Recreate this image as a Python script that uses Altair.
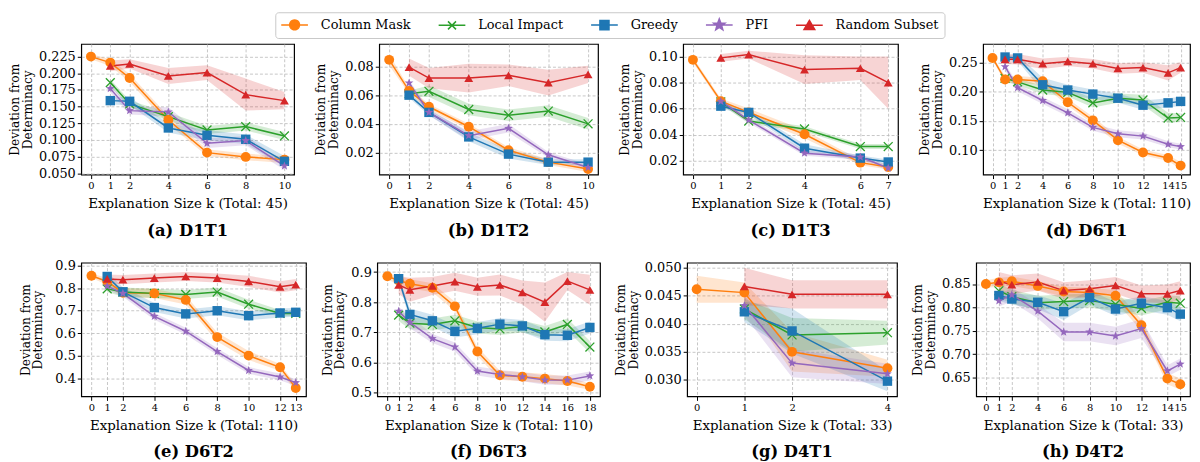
import math
import altair as alt
import pandas as pd

METHODS = ["Column Mask", "Local Impact", "Greedy", "PFI", "Random Subset"]
COLORS = ["#ff7f0e", "#2ca02c", "#1f77b4", "#9467bd", "#d62728"]

# ---------------- (a) D1T1 ----------------
D1T1_K = [0, 1, 2, 4, 6, 8, 10]
D1T1_MEAN = {
    "Column Mask": [0.225, 0.216, 0.193, 0.130, 0.081, 0.0746, 0.0705],
    "Local Impact": [0.186, 0.154, 0.135, 0.115, 0.120, 0.106],
    "Greedy": [0.159, 0.158, 0.118, 0.107, 0.101, 0.068],
    "PFI": [0.177, 0.144, 0.142, 0.095, 0.099, 0.061],
    "Random Subset": [0.211, 0.214, 0.196, 0.201, 0.168, 0.159],
}
D1T1_ERR = {
    "Column Mask": [0.004, 0.005, 0.006, 0.006, 0.005, 0.005, 0.005],
    "Local Impact": [0.005, 0.005, 0.006, 0.006, 0.006, 0.006],
    "Greedy": [0.006, 0.006, 0.007, 0.008, 0.007, 0.008],
    "PFI": [0.006, 0.006, 0.007, 0.007, 0.007, 0.006],
    "Random Subset": [0.008, 0.007, 0.012, 0.011, 0.024, 0.013],
}

# ---------------- (b) D1T2 ----------------
D1T2_K = [0, 1, 2, 4, 6, 8, 10]
D1T2_MEAN = {
    "Column Mask": [0.0846, 0.063, 0.0519, 0.038, 0.0216, 0.0133, 0.0085],
    "Local Impact": [0.061, 0.0627, 0.050, 0.046, 0.0489, 0.040],
    "Greedy": [0.060, 0.048, 0.0309, 0.0189, 0.0133, 0.0133],
    "PFI": [0.0685, 0.048, 0.0318, 0.0369, 0.0184, 0.0096],
    "Random Subset": [0.0795, 0.0719, 0.0719, 0.0738, 0.0687, 0.0745],
}
D1T2_ERR = {
    "Column Mask": [0.004, 0.002, 0.002, 0.002, 0.002, 0.002, 0.002],
    "Local Impact": [0.002, 0.004, 0.004, 0.004, 0.004, 0.004],
    "Greedy": [0.002, 0.002, 0.003, 0.003, 0.002, 0.002],
    "PFI": [0.002, 0.002, 0.003, 0.003, 0.002, 0.002],
    "Random Subset": [0.006, 0.007, 0.010, 0.0075, 0.009, 0.006],
}

# ---------------- (c) D1T3 ----------------
D1T3_K = [0, 1, 2, 4, 6, 7]
D1T3_MEAN = {
    "Column Mask": [0.0975, 0.0657, 0.0571, 0.0403, 0.0185, 0.0152],
    "Local Impact": [0.0652, 0.0505, 0.0444, 0.0309, 0.0309],
    "Greedy": [0.0619, 0.0571, 0.0296, 0.022, 0.019],
    "PFI": [0.0657, 0.0512, 0.0258, 0.0228, 0.0144],
    "Random Subset": [0.099, 0.1015, 0.090, 0.091, 0.080],
}
D1T3_ERR = {
    "Column Mask": [0.002, 0.002, 0.003, 0.003, 0.002, 0.002],
    "Local Impact": [0.002, 0.002, 0.002, 0.002, 0.002],
    "Greedy": [0.002, 0.002, 0.003, 0.002, 0.002],
    "PFI": [0.002, 0.002, 0.002, 0.002, 0.002],
    "Random Subset": [0.003, 0.003, 0.011, 0.009, 0.020],
}

# ---------------- (d) D6T1 ----------------
D6T1_K = [0, 1, 2, 4, 6, 8, 10, 12, 14, 15]
D6T1_MEAN = {
    "Column Mask": [0.258, 0.221, 0.221, 0.218, 0.182, 0.151, 0.117, 0.096, 0.0865, 0.0735],
    "Local Impact": [0.223, 0.217, 0.203, 0.199, 0.181, 0.189, 0.186, 0.155, 0.156],
    "Greedy": [0.2596, 0.258, 0.212, 0.203, 0.196, 0.189, 0.177, 0.181, 0.1835],
    "PFI": [0.243, 0.207, 0.185, 0.164, 0.139, 0.128, 0.124, 0.110, 0.106],
    "Random Subset": [0.2556, 0.2556, 0.248, 0.252, 0.248, 0.240, 0.2415, 0.2325, 0.2415],
}
D6T1_ERR = {
    "Column Mask": [0.003, 0.006, 0.006, 0.006, 0.006, 0.006, 0.006, 0.005, 0.005, 0.006],
    "Local Impact": [0.006, 0.006, 0.007, 0.007, 0.008, 0.008, 0.009, 0.009, 0.007],
    "Greedy": [0.005, 0.005, 0.012, 0.009, 0.008, 0.008, 0.008, 0.008, 0.008],
    "PFI": [0.006, 0.006, 0.006, 0.006, 0.006, 0.006, 0.006, 0.005, 0.005],
    "Random Subset": [0.008, 0.009, 0.009, 0.008, 0.008, 0.009, 0.009, 0.013, 0.009],
}

# ---------------- (e) D6T2 ----------------
D6T2_K = [0, 1, 2, 4, 6, 8, 10, 12, 13]
D6T2_MEAN = {
    "Column Mask": [0.855, 0.830, 0.780, 0.777, 0.748, 0.583, 0.501, 0.449, 0.357],
    "Local Impact": [0.797, 0.783, 0.777, 0.772, 0.783, 0.729, 0.688, 0.688],
    "Greedy": [0.852, 0.784, 0.714, 0.686, 0.700, 0.678, 0.690, 0.693],
    "PFI": [0.809, 0.777, 0.675, 0.609, 0.519, 0.435, 0.406, 0.381],
    "Random Subset": [0.841, 0.838, 0.845, 0.852, 0.845, 0.830, 0.806, 0.816],
}
D6T2_ERR = {
    "Column Mask": [0.010, 0.015, 0.020, 0.020, 0.020, 0.020, 0.020, 0.015, 0.015],
    "Local Impact": [0.015, 0.020, 0.020, 0.020, 0.020, 0.020, 0.015, 0.010],
    "Greedy": [0.020, 0.020, 0.020, 0.020, 0.020, 0.020, 0.020, 0.020],
    "PFI": [0.015, 0.015, 0.015, 0.015, 0.015, 0.015, 0.015, 0.015],
    "Random Subset": [0.020, 0.020, 0.020, 0.020, 0.020, 0.025, 0.025, 0.025],
}

# ---------------- (f) D6T3 ----------------
D6T3_K = [0, 1, 2, 4, 6, 8, 10, 12, 14, 16, 18]
D6T3_MEAN = {
    "Column Mask": [0.886, 0.872, 0.861, 0.848, 0.786, 0.636, 0.557, 0.552, 0.546, 0.538, 0.519],
    "Local Impact": [0.757, 0.730, 0.726, 0.738, 0.716, 0.711, 0.719, 0.701, 0.726, 0.651],
    "Greedy": [0.878, 0.759, 0.738, 0.703, 0.713, 0.727, 0.721, 0.692, 0.690, 0.716],
    "PFI": [0.770, 0.733, 0.679, 0.651, 0.571, 0.560, 0.552, 0.541, 0.541, 0.555],
    "Random Subset": [0.857, 0.841, 0.854, 0.868, 0.851, 0.857, 0.832, 0.800, 0.870, 0.841],
}
D6T3_ERR = {
    "Column Mask": [0.010, 0.015, 0.015, 0.015, 0.015, 0.015, 0.015, 0.015, 0.015, 0.015, 0.010],
    "Local Impact": [0.020, 0.020, 0.020, 0.020, 0.020, 0.020, 0.020, 0.020, 0.020, 0.020],
    "Greedy": [0.010, 0.020, 0.020, 0.020, 0.020, 0.020, 0.020, 0.020, 0.020, 0.020],
    "PFI": [0.015, 0.020, 0.015, 0.015, 0.015, 0.015, 0.015, 0.015, 0.015, 0.015],
    "Random Subset": [0.030, 0.040, 0.030, 0.030, 0.030, 0.035, 0.040, 0.065, 0.030, 0.050],
}

# ---------------- (g) D4T1 ----------------
D4T1_K = [0, 1, 2, 4]
D4T1_MEAN = {
    "Column Mask": [0.0461, 0.0455, 0.0350, 0.0321],
    "Local Impact": [0.0426, 0.0380, 0.0384],
    "Greedy": [0.0421, 0.0387, 0.0298],
    "PFI": [0.0432, 0.0330, 0.0311],
    "Random Subset": [0.0466, 0.0452, 0.0452],
}
D4T1_ERR = {
    "Column Mask": [0.0024, 0.0018, 0.0035, 0.0015],
    "Local Impact": [0.0018, 0.0030, 0.0021],
    "Greedy": [0.0018, 0.0040, 0.0018],
    "PFI": [0.0018, 0.0025, 0.0018],
    "Random Subset": [0.0033, 0.0025, 0.0025],
}

# ---------------- (h) D4T2 ----------------
D4T2_K = [0, 1, 2, 4, 6, 8, 10, 12, 14, 15]
D4T2_MEAN = {
    "Column Mask": [0.850, 0.8536, 0.8558, 0.846, 0.834, 0.832, 0.825, 0.762, 0.648, 0.636],
    "Local Impact": [0.8356, 0.823, 0.810, 0.8125, 0.8146, 0.8067, 0.798, 0.811, 0.809],
    "Greedy": [0.8255, 0.818, 0.811, 0.791, 0.821, 0.7966, 0.809, 0.7995, 0.7857],
    "PFI": [0.814, 0.827, 0.792, 0.7475, 0.7475, 0.739, 0.7547, 0.6644, 0.679],
    "Random Subset": [0.8558, 0.8486, 0.8543, 0.836, 0.840, 0.847, 0.829, 0.829, 0.836],
}
D4T2_ERR = {
    "Column Mask": [0.008, 0.010, 0.010, 0.010, 0.010, 0.010, 0.012, 0.012, 0.012, 0.012],
    "Local Impact": [0.015, 0.015, 0.015, 0.015, 0.015, 0.015, 0.015, 0.015, 0.015],
    "Greedy": [0.012, 0.012, 0.015, 0.018, 0.015, 0.015, 0.015, 0.015, 0.015],
    "PFI": [0.012, 0.015, 0.015, 0.020, 0.020, 0.020, 0.020, 0.012, 0.012],
    "Random Subset": [0.020, 0.020, 0.018, 0.018, 0.018, 0.018, 0.018, 0.020, 0.020],
}

# panel settings: caption, k, means, errs, total, x domain, y domain, y ticks, y format, width, extra y-title pad
PANELS = [
    ("(a) D1T1", D1T1_K, D1T1_MEAN, D1T1_ERR, 45, [-0.5, 10.5], [0.048, 0.244],
     [0.05, 0.075, 0.1, 0.125, 0.15, 0.175, 0.2, 0.225], ".3f", 215, 0),
    ("(b) D1T2", D1T2_K, D1T2_MEAN, D1T2_ERR, 45, [-0.5, 10.5], [0.0046, 0.0957],
     [0.02, 0.04, 0.06, 0.08], ".2f", 221, 0),
    ("(c) D1T3", D1T3_K, D1T3_MEAN, D1T3_ERR, 45, [-0.35, 7.35], [0.0093, 0.1097],
     [0.02, 0.04, 0.06, 0.08, 0.10], ".2f", 217, 0),
    ("(d) D6T1", D6T1_K, D6T1_MEAN, D6T1_ERR, 110, [-0.75, 15.75], [0.058, 0.282],
     [0.10, 0.15, 0.20, 0.25], ".2f", 209, 0),
    ("(e) D6T2", D6T2_K, D6T2_MEAN, D6T2_ERR, 110, [-0.65, 13.65], [0.32, 0.913],
     [0.4, 0.5, 0.6, 0.7, 0.8, 0.9], ".1f", 227, 6),
    ("(f) D6T3", D6T3_K, D6T3_MEAN, D6T3_ERR, 110, [-0.9, 18.9], [0.487, 0.931],
     [0.5, 0.6, 0.7, 0.8, 0.9], ".1f", 225, 0),
    ("(g) D4T1", D4T1_K, D4T1_MEAN, D4T1_ERR, 33, [-0.2, 4.2], [0.0271, 0.0508],
     [0.030, 0.035, 0.040, 0.045, 0.050], ".3f", 212, 0),
    ("(h) D4T2", D4T2_K, D4T2_MEAN, D4T2_ERR, 33, [-0.75, 15.75], [0.610, 0.8955],
     [0.65, 0.70, 0.75, 0.80, 0.85], ".2f", 216, 0),
]

FONT = "DejaVu Serif"


def star_path(ro, ri):
    pts = []
    for i in range(10):
        a = math.radians(-90 + 36 * i)
        r = ro if i % 2 == 0 else ri
        pts.append(f"{r * math.cos(a):.3f},{r * math.sin(a):.3f}")
    return "M" + "L".join(pts) + "Z"


def circle_path(r, n=24):
    pts = []
    for i in range(n):
        a = 2 * math.pi * i / n
        pts.append(f"{r * math.cos(a):.3f},{r * math.sin(a):.3f}")
    return "M" + "L".join(pts) + "Z"


X_PATH = "M-1,-1L1,1M-1,1L1,-1"
PANEL_SHAPES = ["circle", X_PATH, "square", star_path(1.0, 0.42), "triangle-up"]
PANEL_SIZES = [100, 80, 95, 140, 115]

LINE = "M-2,0L2,0"
LEGEND_SHAPES = [
    LINE + circle_path(0.74),
    LINE + "M-0.6,-0.6L0.6,0.6M-0.6,0.6L0.6,-0.6",
    LINE + "M-0.68,-0.68L0.68,-0.68L0.68,0.68L-0.68,0.68Z",
    LINE + star_path(0.9, 0.38),
    LINE + "M0,-0.72L0.8,0.62L-0.8,0.62Z",
]


def panel_df(K, MEAN, ERR):
    rows = []
    for m in METHODS:
        ks = K if m == "Column Mask" else K[1:]
        for k, v, e in zip(ks, MEAN[m], ERR[m]):
            rows.append({"method": m, "k": k, "mean": v, "lo": v - e, "hi": v + e})
    return pd.DataFrame(rows)


def make_panel(caption, K, MEAN, ERR, total, xdom, ydom, yticks, yfmt, width, ypad, height):
    df = panel_df(K, MEAN, ERR)
    xaxis = alt.Axis(values=K, format="d", title=f"Explanation Size k (Total: {total})",
                     labelOverlap=False, labelFontSize=10, titleFontSize=13.5,
                     labelPadding=2, titlePadding=6, labelFlush=False)
    yaxis = alt.Axis(values=yticks, format=yfmt, title=["Deviation from", "Determinacy"],
                     labelFontSize=13, titleFontSize=12.3, titleLineHeight=13,
                     labelPadding=2, titlePadding=4 + ypad, labelOverlap=False, labelFlush=False)
    xs = alt.Scale(domain=xdom, nice=False, zero=False)
    ys = alt.Scale(domain=ydom, nice=False, zero=False)
    X = alt.X("k:Q", scale=xs, axis=xaxis)
    color = alt.Color("method:N", scale=alt.Scale(domain=METHODS, range=COLORS), legend=None)
    base = alt.Chart(df)
    band = base.mark_area(opacity=0.2).encode(
        x=X, y=alt.Y("lo:Q", scale=ys, axis=yaxis), y2="hi:Q", color=color)
    line = base.mark_line(strokeWidth=1.5).encode(
        x=X, y=alt.Y("mean:Q", scale=ys, axis=yaxis), color=color)
    crosses = base.transform_filter(alt.datum.method == "Local Impact").mark_point(
        filled=False, opacity=1, shape=X_PATH, size=80, strokeWidth=1.3).encode(
        x=X, y=alt.Y("mean:Q", scale=ys, axis=yaxis), color=color)
    pts = base.transform_filter(alt.datum.method != "Local Impact").mark_point(
        filled=True, opacity=1).encode(
        x=X, y=alt.Y("mean:Q", scale=ys, axis=yaxis), color=color,
        shape=alt.Shape("method:N", scale=alt.Scale(domain=METHODS, range=PANEL_SHAPES), legend=None),
        size=alt.Size("method:N", scale=alt.Scale(domain=METHODS, range=PANEL_SIZES), legend=None))
    return alt.layer(band, line, crosses, pts).properties(
        width=width, height=height,
        title=alt.Title(caption, orient="bottom", anchor="middle", font=FONT, fontSize=16.5,
                        fontWeight="bold", color="black", offset=13))


row1 = alt.hconcat(*[make_panel(*p, height=132) for p in PANELS[:4]], spacing=19)
row2 = alt.hconcat(*[make_panel(*p, height=135) for p in PANELS[4:]], spacing=13)

leg = alt.Legend(title=None, orient="none", legendX=196, legendY=2,
                 direction="horizontal", columns=5,
                 symbolSize=182, symbolStrokeWidth=1.5, symbolOffset=7, labelOffset=19,
                 labelFont=FONT, labelFontSize=13, labelColor="black", columnPadding=25,
                 padding=5, strokeColor="#c8c8c8", cornerRadius=3, fillColor="white",
                 labelLimit=300)
legend_df = pd.DataFrame({"method": METHODS})
legend_chart = alt.Chart(legend_df).transform_filter("false").mark_point(
    filled=True, opacity=1, strokeWidth=1.5).encode(
    fill=alt.Fill("method:N", scale=alt.Scale(domain=METHODS, range=COLORS), legend=leg),
    stroke=alt.Stroke("method:N", scale=alt.Scale(domain=METHODS, range=COLORS), legend=leg),
    shape=alt.Shape("method:N", scale=alt.Scale(domain=METHODS, range=LEGEND_SHAPES), legend=leg),
).properties(width=1, height=1, view=alt.ViewBackground(stroke=None))

chart = alt.vconcat(
    legend_chart,
    alt.vconcat(row1, row2, spacing=19),
    spacing=4,
).properties(
    padding={"left": 0, "top": 0, "right": 0, "bottom": 0},
).resolve_scale(
    color="independent", shape="independent", size="independent",
    fill="independent", stroke="independent",
).configure(font=FONT).configure_view(
    stroke="black", strokeWidth=1.2
).configure_axis(
    labelFont=FONT, titleFont=FONT, labelColor="black", titleColor="black",
    titleFontWeight="normal", tickColor="black", tickSize=4, tickWidth=1,
    domain=False, gridColor="#b8b8b8", gridDash=[3, 2], gridWidth=0.8,
)

chart.save("out.html", embed_options={"renderer": "svg", "actions": False})
